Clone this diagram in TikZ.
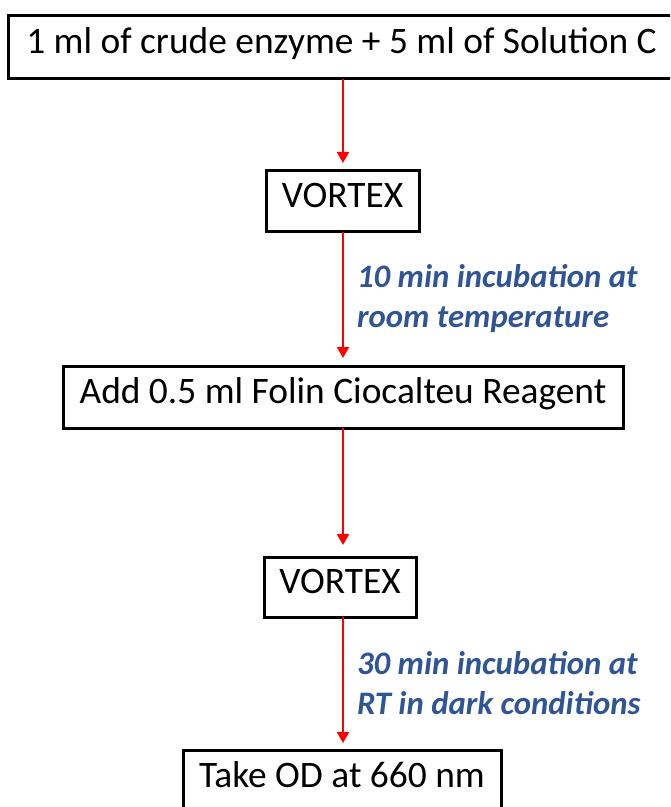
\documentclass[tikz,border=0pt]{standalone}
\usepackage{fontspec}
\setmainfont{Carlito}
\usetikzlibrary{arrows.meta,positioning}
\definecolor{noteColor}{HTML}{2F5597}
\definecolor{flowColor}{HTML}{FF0000}
\tikzset{
	stepbox/.style={draw, line width=1.5pt, inner sep=0, outer sep=0,
		text height=0.644em, text depth=0pt,
		font=\fontsize{18.7}{22}\selectfont},
	note/.style={text=noteColor, align=left, inner sep=0,
		font=\fontsize{16.4}{20}\selectfont\bfseries\itshape},
	flow/.style={draw=flowColor, line width=1pt,
		-{Triangle[width=6pt,length=5.5pt]}, shorten >=4pt}
}

\begin{document}
\begin{tikzpicture}[x=0.5pt,y=-0.5pt]
	\clip (0,0) rectangle (670,807);
	\node[stepbox, minimum width=333.5pt, minimum height=31.5pt] (st1) at (341.5,47.5) {1 ml of crude enzyme + 5 ml of Solution C};
	\node[stepbox, minimum width=76.5pt, minimum height=30.5pt] (st2) at (342.5,201.5) {VORTEX};
	\node[stepbox, minimum width=280pt, minimum height=31pt] (st3) at (343,397) {Add 0.5 ml Folin Ciocalteu Reagent};
	\node[stepbox, minimum width=76pt, minimum height=30pt] (st4) at (340,587) {VORTEX};
	\node[stepbox, minimum width=159pt, minimum height=31pt] (st5) at (342,781) {Take OD at 660 nm};
	%arrows
	\draw[flow] (st1.south -| st3) -- (st2.north -| st3);
	\draw[flow] (st2.south -| st3) -- node[note, right, xshift=6.5pt] (n1) {10 min incubation at\\room temperature} (st3.north);
	\draw[flow, shorten >=6pt] (st3.south) -- (st4.north -| st3);
	\draw[flow, shorten >=3.5pt] (st4.south -| st3) -- node[note, right, xshift=6.5pt] (n2) {30 min incubation at\\RT in dark conditions} (st5.north -| st3);
\end{tikzpicture}
\end{document}
